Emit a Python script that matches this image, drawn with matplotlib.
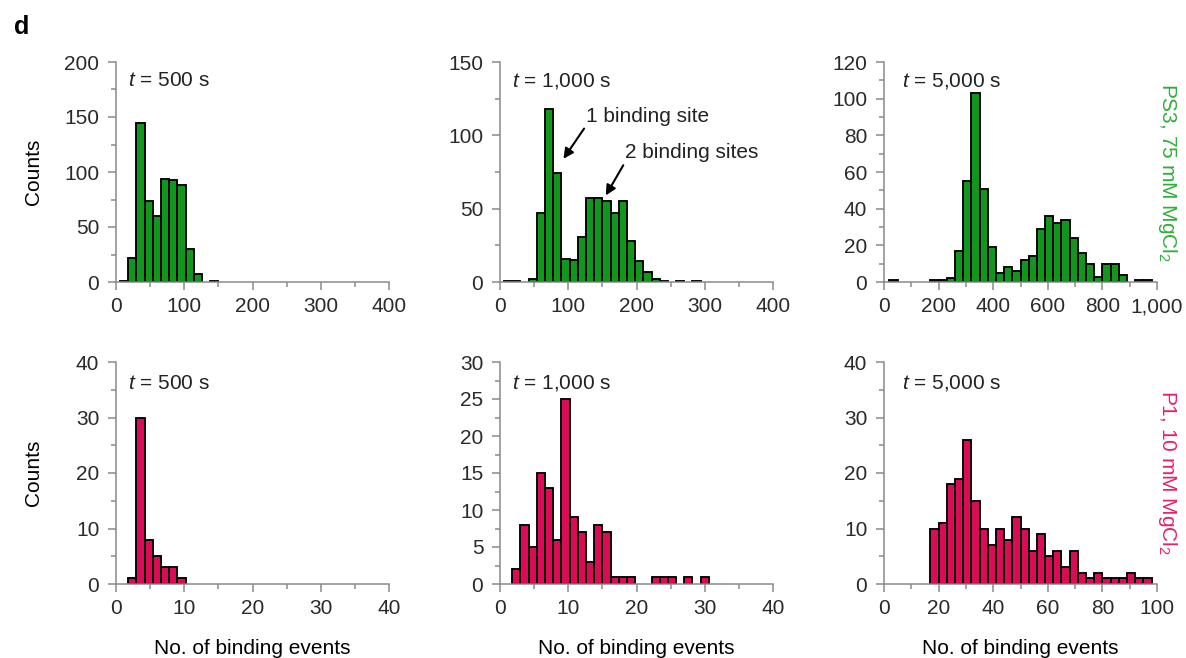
import matplotlib
matplotlib.use("Agg")
import matplotlib.pyplot as plt
import numpy as np
from matplotlib.ticker import MultipleLocator, FuncFormatter

# fonts / style
plt.rcParams['font.family'] = ['Liberation Sans', 'DejaVu Sans']
plt.rcParams['font.size'] = 15
plt.rcParams['mathtext.fontset'] = 'custom'
plt.rcParams['mathtext.rm'] = 'Liberation Sans'
plt.rcParams['mathtext.it'] = 'Liberation Sans:italic'
plt.rcParams['text.color'] = '#222222'

GREEN = '#12971e'
PINK = '#da0c58'
GREEN_TXT = '#2fae3a'
PINK_TXT = '#e3226e'
AX_GRAY = '#8a8a8a'

# ---- data (bin start, bin width, counts) ----
# PS3, 75 mM MgCl2
ps3_500_start, ps3_500_width = 6, 12
ps3_500_counts = [1, 22, 145, 74, 60, 94, 93, 88, 30, 7, 0, 1]

ps3_1000_start, ps3_1000_width = 6, 12
ps3_1000_counts = [1, 1, 0, 2, 47, 118, 74, 16, 15, 31, 57, 57, 55, 47, 55, 28,
                   14, 7, 2, 1, 0, 1, 0, 1]

ps3_5000_start, ps3_5000_width = 20, 30
ps3_5000_counts = [1, 0, 0, 0, 0, 1, 1, 2, 17, 55, 103, 51, 19, 5, 8, 6, 12, 14,
                   29, 36, 32, 34, 24, 16, 10, 3, 10, 10, 4, 0, 1, 1]

# P1, 10 mM MgCl2
p1_500_start, p1_500_width = 1.8, 1.2
p1_500_counts = [1, 30, 8, 5, 3, 3, 1]

p1_1000_start, p1_1000_width = 1.8, 1.2
p1_1000_counts = [2, 8, 5, 15, 13, 6, 25, 9, 7, 3, 8, 7, 1, 1, 1, 0, 0, 1, 1, 1,
                  0, 1, 0, 1]

p1_5000_start, p1_5000_width = 17, 3
p1_5000_counts = [10, 11, 18, 19, 26, 15, 10, 7, 10, 8, 12, 10, 6, 9, 5, 6, 3, 6,
                  2, 1, 2, 1, 1, 1, 2, 1, 1]

titles = ['500', '1,000', '5,000']

fig = plt.figure(figsize=(11.86, 6.58), dpi=100)

lefts = [116, 500, 884]
W, H = 1186, 658
aw = 273
rows = [(62, 282), (362, 584)]


def make_ax(col, row):
    top, bot = rows[row]
    return fig.add_axes([lefts[col] / W, 1 - bot / H, aw / W, (bot - top) / H])


def style(ax, xmax, xmaj, xmin, ymax, ymaj, ymin):
    ax.set_xlim(0, xmax)
    ax.set_ylim(0, ymax)
    for s in ['top', 'right']:
        ax.spines[s].set_visible(False)
    for s in ['left', 'bottom']:
        ax.spines[s].set_color(AX_GRAY)
        ax.spines[s].set_linewidth(1.1)
    ax.xaxis.set_major_locator(MultipleLocator(xmaj))
    ax.xaxis.set_minor_locator(MultipleLocator(xmin))
    ax.yaxis.set_major_locator(MultipleLocator(ymaj))
    ax.yaxis.set_minor_locator(MultipleLocator(ymin))
    ax.xaxis.set_major_formatter(FuncFormatter(lambda v, p: '{:,.0f}'.format(v)))
    ax.tick_params(which='both', direction='out', color=AX_GRAY, width=1.1,
                   labelcolor='#2a2a2a', labelsize=15)
    ax.tick_params(which='major', length=6)
    ax.tick_params(which='minor', length=3.5)
    ax.tick_params(axis='x', pad=5)
    ax.tick_params(axis='y', pad=6)


def hist(ax, start, width, counts, color):
    counts = np.array(counts, dtype=float)
    lefts_ = start + width * np.arange(len(counts))
    keep = counts > 0
    ax.bar(lefts_[keep], counts[keep], width=width, align='edge', color=color,
           edgecolor='black', linewidth=1.35)


panels = [
    (0, 0, ps3_500_start, ps3_500_width, ps3_500_counts, GREEN, (400, 100, 50, 200, 50, 25)),
    (1, 0, ps3_1000_start, ps3_1000_width, ps3_1000_counts, GREEN, (400, 100, 50, 150, 50, 25)),
    (2, 0, ps3_5000_start, ps3_5000_width, ps3_5000_counts, GREEN, (1000, 200, 100, 120, 20, 10)),
    (0, 1, p1_500_start, p1_500_width, p1_500_counts, PINK, (40, 10, 5, 40, 10, 5)),
    (1, 1, p1_1000_start, p1_1000_width, p1_1000_counts, PINK, (40, 10, 5, 30, 5, 2.5)),
    (2, 1, p1_5000_start, p1_5000_width, p1_5000_counts, PINK, (100, 20, 10, 40, 10, 5)),
]

axes = {}
for col, row, st, wd, cnt, colr, lims in panels:
    ax = make_ax(col, row)
    hist(ax, st, wd, cnt, colr)
    style(ax, *lims)
    xoff = 0.044 if col < 2 else 0.066
    ax.text(xoff, 0.915 if row == 0 else 0.905, '$t$ = ' + titles[col] + ' s',
            transform=ax.transAxes, ha='left', va='center', fontsize=15)
    if col == 0:
        ax.set_ylabel('Counts', fontsize=15)
        ax.yaxis.set_label_coords(-0.267, 0.5)
    if row == 1:
        ax.set_xlabel('No. of binding events', fontsize=15)
        ax.xaxis.set_label_coords(0.5, -0.25)
    axes[(col, row)] = ax

# annotations
ax = axes[(1, 0)]
ax.annotate('1 binding site', xy=(93, 84), xytext=(126, 113),
            ha='left', va='center', fontsize=15,
            arrowprops=dict(arrowstyle='-|>', color='black', lw=1.5,
                            mutation_scale=15, shrinkA=0, shrinkB=0,
                            relpos=(0.0, 0.0)))
ax.annotate('2 binding sites', xy=(155, 59), xytext=(183, 88),
            ha='left', va='center', fontsize=15,
            arrowprops=dict(arrowstyle='-|>', color='black', lw=1.5,
                            mutation_scale=15, shrinkA=0, shrinkB=0,
                            relpos=(0.0, 0.0)))

# row labels
axes[(2, 0)].text(1.037, 0.5, 'PS3, 75 mM MgCl$_2$', transform=axes[(2, 0)].transAxes,
                  rotation=-90, ha='center', va='center', color=GREEN_TXT, fontsize=15)
axes[(2, 1)].text(1.037, 0.5, 'P1, 10 mM MgCl$_2$', transform=axes[(2, 1)].transAxes,
                  rotation=-90, ha='center', va='center', color=PINK_TXT, fontsize=15)

fig.text(22 / W, 1 - 27 / H, 'd', fontsize=18, fontweight='bold', ha='center',
         va='center', color='black')

plt.savefig('out.png', dpi=100)
